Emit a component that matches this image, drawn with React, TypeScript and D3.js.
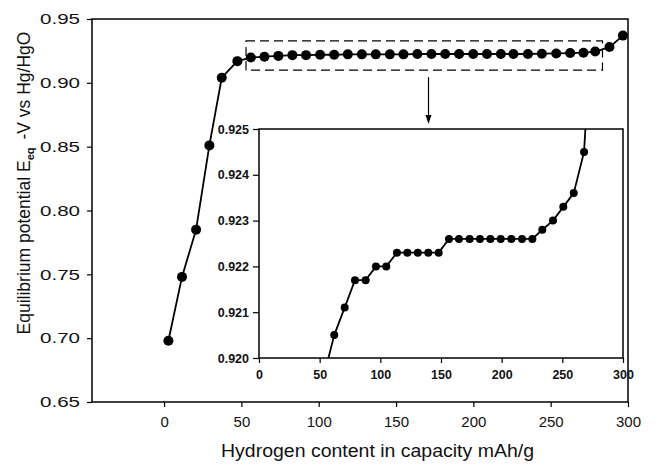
import React, { useRef, useEffect } from 'react';
import * as d3 from 'd3';

// main curve
const mainX = [2.8, 11.6, 20.7, 29.3, 37.3, 47.4,
  56.1, 64.9, 73.9, 83.0, 91.8, 100.9, 110.0, 118.8, 127.9, 136.9, 146.0, 154.8, 163.8,
  172.9, 181.8, 190.8, 199.9, 208.8, 217.8, 225.9, 235.3, 244.3, 253.6, 262.6, 271.2, 278.8,
  288.0, 296.7];
const mainY = [0.698, 0.748, 0.785, 0.851, 0.904, 0.917,
  0.9198, 0.9205, 0.9211, 0.9217, 0.9217, 0.922, 0.922, 0.9223, 0.9223, 0.9223, 0.9223, 0.9223,
  0.9226, 0.9226, 0.9226, 0.9226, 0.9226, 0.9226, 0.9226, 0.9226, 0.9226, 0.9228, 0.923, 0.9233,
  0.9236, 0.9245, 0.928, 0.937];

// zoomed plateau shown in the inset
const insetX = [53.4, 62, 70.6, 79.1, 87.9, 96.4, 104.9, 113.7, 122.3, 130.9, 139.5, 148.1,
  156.6, 164.8, 173.6, 182.1, 190.7, 199.2, 208, 216.8, 225.3, 233.5, 242.3, 250.8, 259.4,
  267.9, 276.5];
const insetY = [0.9196, 0.9205, 0.9211, 0.9217, 0.9217, 0.922, 0.922, 0.9223, 0.9223, 0.9223,
  0.9223, 0.9223, 0.9226, 0.9226, 0.9226, 0.9226, 0.9226, 0.9226, 0.9226, 0.9226, 0.9226,
  0.9228, 0.923, 0.9233, 0.9236, 0.9245, 0.9284];

const mainXTicks = [0, 50, 100, 150, 200, 250, 300];
const mainYTicks = [0.65, 0.7, 0.75, 0.8, 0.85, 0.9, 0.95];
const insetXTicks = [0, 50, 100, 150, 200, 250, 300];
const insetYTicks = [0.92, 0.921, 0.922, 0.923, 0.924, 0.925];

// dashed zoom box, in data units of the main plot
const boxX = [53, 283.5];
const boxY = [0.910, 0.9328];

const FONT = '"Liberation Sans", Arial, sans-serif';

const App = () => {
  const svgRef = useRef<SVGSVGElement>(null);

  useEffect(() => {
    if (!svgRef.current) return;
    const svg = d3.select(svgRef.current);
    svg.selectAll('*').remove();

    const width = 663;
    const height = 466;
    svg.attr('width', width).attr('height', height);

    // ---- main plot ----
    const m = { left: 92, right: 628, top: 19, bottom: 402 };
    const x = d3.scaleLinear().domain([-46.6, 300]).range([m.left, m.right]);
    const y = d3.scaleLinear().domain([0.65, 0.95]).range([m.bottom, m.top]);

    const main = svg.append('g');

    const xAxis = main.append('g')
      .attr('transform', `translate(0,${m.bottom})`)
      .call(d3.axisBottom(x).tickValues(mainXTicks).tickSize(5).tickPadding(9).tickFormat(d3.format('d')));
    const yAxis = main.append('g')
      .attr('transform', `translate(${m.left},0)`)
      .call(d3.axisLeft(y).tickValues(mainYTicks).tickSize(5).tickPadding(7).tickFormat(d3.format('.2f')));
    [xAxis, yAxis].forEach(a => {
      a.select('.domain').remove();
      a.selectAll('line').attr('stroke', '#000').attr('stroke-width', 1.2);
      a.selectAll('text').style('font-family', FONT).style('font-size', '15px').attr('fill', '#111');
    });
    // the y labels are drawn wider in the original
    yAxis.selectAll('text').attr('textLength', 40).attr('lengthAdjust', 'spacingAndGlyphs');

    main.append('rect')
      .attr('x', m.left).attr('y', m.top)
      .attr('width', m.right - m.left).attr('height', m.bottom - m.top)
      .attr('fill', 'none').attr('stroke', '#000').attr('stroke-width', 1.5);

    const mainData = mainX.map((v, i) => [v, mainY[i]] as [number, number]);
    const line = d3.line<[number, number]>().x(d => x(d[0])).y(d => y(d[1]));
    main.append('path')
      .datum(mainData)
      .attr('d', line)
      .attr('fill', 'none').attr('stroke', '#000').attr('stroke-width', 1.8);
    main.selectAll('circle.main')
      .data(mainData)
      .enter().append('circle')
      .attr('class', 'main')
      .attr('cx', d => x(d[0])).attr('cy', d => y(d[1]))
      .attr('r', 5).attr('fill', '#000');

    // dashed box around the plateau
    main.append('rect')
      .attr('x', x(boxX[0])).attr('y', y(boxY[1]))
      .attr('width', x(boxX[1]) - x(boxX[0])).attr('height', y(boxY[0]) - y(boxY[1]))
      .attr('fill', 'none').attr('stroke', '#000').attr('stroke-width', 1.2)
      .attr('stroke-dasharray', '9,5');

    // arrow down to the inset
    const ax = 428.5;
    main.append('line')
      .attr('x1', ax).attr('x2', ax).attr('y1', y(boxY[0]) + 7).attr('y2', 116)
      .attr('stroke', '#000').attr('stroke-width', 1.2);
    main.append('path')
      .attr('d', `M${ax - 3},115 L${ax + 3},115 L${ax},124 Z`)
      .attr('fill', '#000');

    // axis titles
    svg.append('text')
      .attr('x', 377.5).attr('y', 457)
      .attr('text-anchor', 'middle')
      .attr('textLength', 313).attr('lengthAdjust', 'spacingAndGlyphs')
      .style('font-family', FONT).style('font-size', '17.5px').attr('fill', '#111')
      .text('Hydrogen content in capacity mAh/g');

    const yt = svg.append('text')
      .attr('transform', `translate(30,183) rotate(-90)`)
      .attr('text-anchor', 'middle')
      .style('font-family', FONT).style('font-size', '17.5px').attr('fill', '#111');
    yt.append('tspan').text('Equilibrium potential E');
    yt.append('tspan').attr('dy', 4).style('font-size', '11px').style('font-weight', 'bold').text('eq');
    yt.append('tspan').attr('dy', -4).attr('dx', 8).text('-V vs Hg/HgO');

    // ---- inset ----
    const n = { left: 259, right: 623, top: 129, bottom: 358 };
    const ix = d3.scaleLinear().domain([0, 300]).range([n.left, n.right]);
    const iy = d3.scaleLinear().domain([0.92, 0.925]).range([n.bottom, n.top]);

    const inset = svg.append('g');
    inset.append('rect')
      .attr('x', n.left).attr('y', n.top)
      .attr('width', n.right - n.left).attr('height', n.bottom - n.top)
      .attr('fill', '#fff');

    svg.append('clipPath').attr('id', 'inset-clip')
      .append('rect')
      .attr('x', n.left).attr('y', n.top)
      .attr('width', n.right - n.left).attr('height', n.bottom - n.top);

    const ixAxis = inset.append('g')
      .attr('transform', `translate(0,${n.bottom})`)
      .call(d3.axisBottom(ix).tickValues(insetXTicks).tickSize(5).tickPadding(7).tickFormat(d3.format('d')));
    const iyAxis = inset.append('g')
      .attr('transform', `translate(${n.left},0)`)
      .call(d3.axisLeft(iy).tickValues(insetYTicks).tickSize(6).tickPadding(4).tickFormat(d3.format('.3f')));
    [ixAxis, iyAxis].forEach(a => {
      a.select('.domain').remove();
      a.selectAll('line').attr('stroke', '#000').attr('stroke-width', 1.2);
      a.selectAll('text').style('font-family', FONT).style('font-size', '12.5px')
        .style('font-weight', 'bold').attr('fill', '#111');
    });

    const insetData = insetX.map((v, i) => [v, insetY[i]] as [number, number]);
    const iline = d3.line<[number, number]>().x(d => ix(d[0])).y(d => iy(d[1]));
    const plot = inset.append('g').attr('clip-path', 'url(#inset-clip)');
    plot.append('path')
      .datum(insetData)
      .attr('d', iline)
      .attr('fill', 'none').attr('stroke', '#000').attr('stroke-width', 1.8);
    plot.selectAll('circle')
      .data(insetData)
      .enter().append('circle')
      .attr('cx', d => ix(d[0])).attr('cy', d => iy(d[1]))
      .attr('r', 4).attr('fill', '#000');

    inset.append('rect')
      .attr('x', n.left).attr('y', n.top)
      .attr('width', n.right - n.left).attr('height', n.bottom - n.top)
      .attr('fill', 'none').attr('stroke', '#000').attr('stroke-width', 1.5);
  }, []);

  return (
    <div style={{ position: 'absolute', left: 0, top: 0, background: '#fff' }}>
      <svg ref={svgRef} style={{ display: 'block' }}></svg>
    </div>
  );
};

export default App;
